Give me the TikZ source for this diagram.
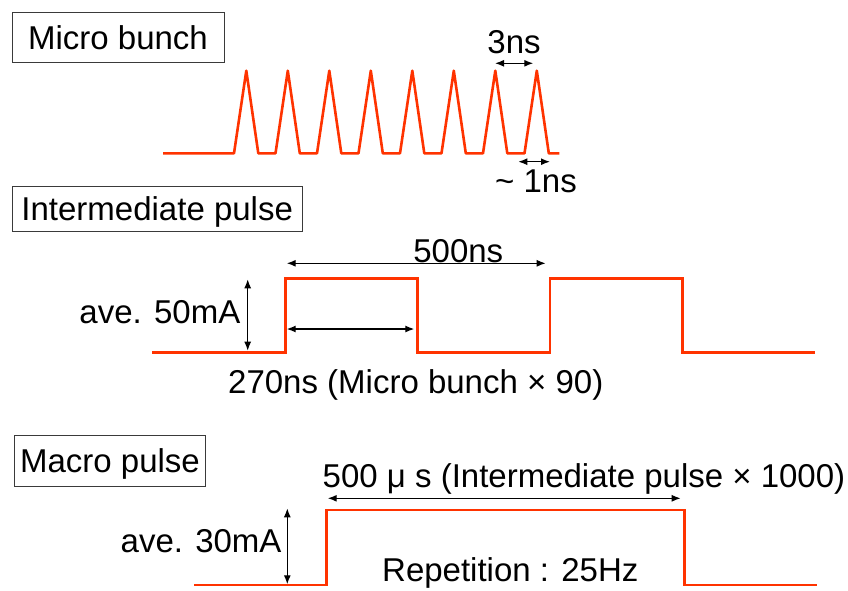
\documentclass[tikz,border=0pt]{standalone}
\usepackage{fontspec}
\setmainfont{Liberation Sans}
\usetikzlibrary{arrows.meta}
\definecolor{Beam}{HTML}{FF3300}
\definecolor{Ink}{HTML}{000000}
\definecolor{Frame}{HTML}{3A3A3A}
\newcommand{\lblfont}{\fontsize{33}{38}\selectfont}

\begin{document}
\begin{tikzpicture}[x=1pt,y=-1pt,
  beam/.style={Beam,line width=2.6pt,line join=miter},
  dimline/.style={Ink,line width=1.3pt,{Latex[length=9pt,width=7pt]}-{Latex[length=9pt,width=7pt]}},
  tagbox/.style={draw=Frame,line width=1pt,inner sep=0pt,text height=24pt,text depth=0pt,font=\lblfont},
  lbl/.style={font=\lblfont,inner sep=0pt}]
  \useasboundingbox (0,0) rectangle (848,590);
  % micro bunch train
  \node[tagbox,minimum width=212pt,minimum height=50pt] (micro) at (118,37) {Micro bunch};
  \draw[beam,line join=round] (163,153.3)
    \foreach \k in {0,...,7} { -- ({234+41.5*\k},153.3) -- ({246.3+41.5*\k},70.7) -- ({258.3+41.5*\k},153.3) }
    -- (559.3,153.3);
  \coordinate (sepL) at (495,63.3);
  \coordinate (sepR) at (533.3,63.3);
  \coordinate (widL) at (518.3,161.7);
  \coordinate (widR) at (550,161.7);
  \draw[dimline] (sepL) -- (sepR);
  \draw[dimline] (widL) -- (widR);
  \node[lbl,anchor=base] (sep) at (514,53) {3ns};
  \node[lbl,anchor=base] (wid) at (536,192) {\~{} 1ns};
  % intermediate pulse
  \node[tagbox,minimum width=290pt,minimum height=45pt] (inter) at (157.2,208.5) {Intermediate pulse};
  \draw[beam] (152.3,352.3) -| (285.7,278.3) -| (417.3,352.3) -| (550,278.3) -| (682.7,352.3) -- (815,352.3);
  \coordinate (perL) at (286.7,263.3);
  \coordinate (perR) at (545.7,263.3);
  \coordinate (lenL) at (286.7,329);
  \coordinate (lenR) at (414.3,329);
  \coordinate (ampT) at (247.7,279.3);
  \coordinate (ampB) at (247.7,350.7);
  \draw[dimline] (perL) -- (perR);
  \draw[dimline] (lenL) -- (lenR);
  \draw[dimline] (ampT) -- (ampB);
  \node[lbl,anchor=base] (per) at (458.3,262) {500ns};
  \node[lbl,anchor=base east] (amp) at (240.5,323.3) {ave. 50mA};
  \node[lbl,anchor=base west] (len) at (228,393) {270ns (Micro bunch × 90)};
  % macro pulse
  \node[tagbox,minimum width=191pt,minimum height=51pt] (macro) at (110,460.5) {Macro pulse};
  \draw[beam] (194.3,585) -| (326.7,510) -| (684.3,585) -- (816.7,585);
  \coordinate (macL) at (327.7,498.3);
  \coordinate (macR) at (680.7,498.3);
  \coordinate (macT) at (287.3,508.3);
  \coordinate (macB) at (287.3,584.3);
  \draw[dimline] (macL) -- (macR);
  \draw[dimline] (macT) -- (macB);
  \node[lbl,anchor=base] (mlen) at (584,487) {500 μ s (Intermediate pulse × 1000)};
  \node[lbl,anchor=base east] (mamp) at (281.7,552.3) {ave. 30mA};
  \node[lbl,anchor=base west] (rep) at (382,581) {Repetition : 25Hz};
\end{tikzpicture}
\end{document}
